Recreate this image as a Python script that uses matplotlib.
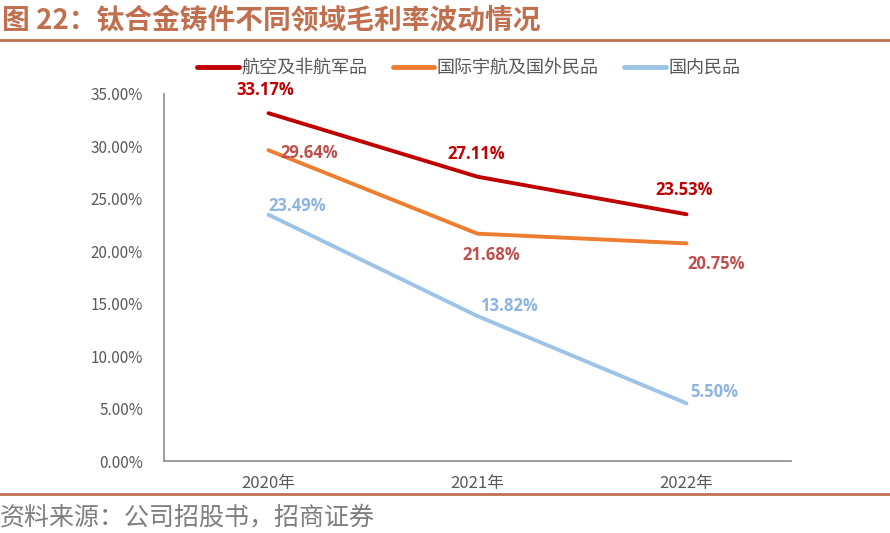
import matplotlib
matplotlib.use("Agg")
import matplotlib.pyplot as plt
from matplotlib.lines import Line2D

plt.rcParams['font.family'] = ['Noto Sans CJK SC', 'DejaVu Sans']

years = ["2020年", "2021年", "2022年"]
aero_nonaero_mil = [33.17, 27.11, 23.53]
intl_aero_civil = [29.64, 21.68, 20.75]
domestic_civil = [23.49, 13.82, 5.50]

series_names = ["航空及非航军品", "国际宇航及国外民品", "国内民品"]
line_colors = ["#C00000", "#ED7D31", "#9DC3E6"]
label_colors = ["#C00000", "#C0504D", "#8EB4E3"]
# label offsets in pixels (dx, dy) for each point
label_offsets = [
  [(-3, 23), (-1, 23), (-2, 24)],
  [(41, -3), (14, -21), (30, -21)],
  [(29, 9), (31, 10), (28, 11)],
]

fig = plt.figure(figsize=(8.9, 5.33), dpi=100)
ax = fig.add_axes([164/890, 1-461/533, (791-164)/890, (461-94)/533])

xs = list(range(len(years)))
all_series = [aero_nonaero_mil, intl_aero_civil, domestic_civil]
for vals, name, lc, tc, offs in zip(all_series, series_names, line_colors, label_colors, label_offsets):
  ax.plot(xs, vals, color=lc, lw=2.8, label=name, solid_capstyle='round')
  for x, v, (dx, dy) in zip(xs, vals, offs):
    ax.annotate("%.2f%%" % v, (x, v), xytext=(dx, dy), textcoords='offset pixels',
                ha='center', va='center', color=tc, fontsize=12, fontweight='bold',
                family=['Open Sans', 'DejaVu Sans'])

ax.set_xlim(-0.5, 2.5)
ax.set_ylim(0, 35)
ax.set_yticks(range(0, 36, 5))
ax.set_yticklabels(["%.2f%%" % t for t in range(0, 36, 5)])
ax.set_xticks(xs)
ax.set_xticklabels(years)
for s in ["top", "right"]:
  ax.spines[s].set_visible(False)
for s in ["left", "bottom"]:
  ax.spines[s].set_color("#8C8C8C")
  ax.spines[s].set_linewidth(1.2)
ax.tick_params(length=0, colors="#595959")
ax.tick_params(axis='y', pad=15, labelsize=11)
ax.tick_params(axis='x', pad=10, labelsize=12)

leg = ax.legend(loc='center left', bbox_to_anchor=(181/890, 1-68/533), bbox_transform=fig.transFigure,
                ncol=3, frameon=False, fontsize=13, handlelength=2.3, columnspacing=1.4,
                handletextpad=0.15)
for t in leg.get_texts():
  t.set_color("#595959")
for h in leg.get_lines():
  h.set_linewidth(3.5)

fig.text(2/890, 1-21/533, "图 22：钛合金铸件不同领域毛利率波动情况", color="#C0704F",
         fontsize=20, fontweight='bold', va='center', ha='left')
fig.add_artist(Line2D([0, 1], [1-40/533, 1-40/533], color="#C0704F", lw=2))
fig.add_artist(Line2D([0, 1], [1-494/533, 1-494/533], color="#C0704F", lw=2))
fig.text(0, 1-517/533, "资料来源：公司招股书，招商证券", color="#7F7F7F",
         fontsize=18, va='center', ha='left')

fig.savefig("out.png", dpi=100)
